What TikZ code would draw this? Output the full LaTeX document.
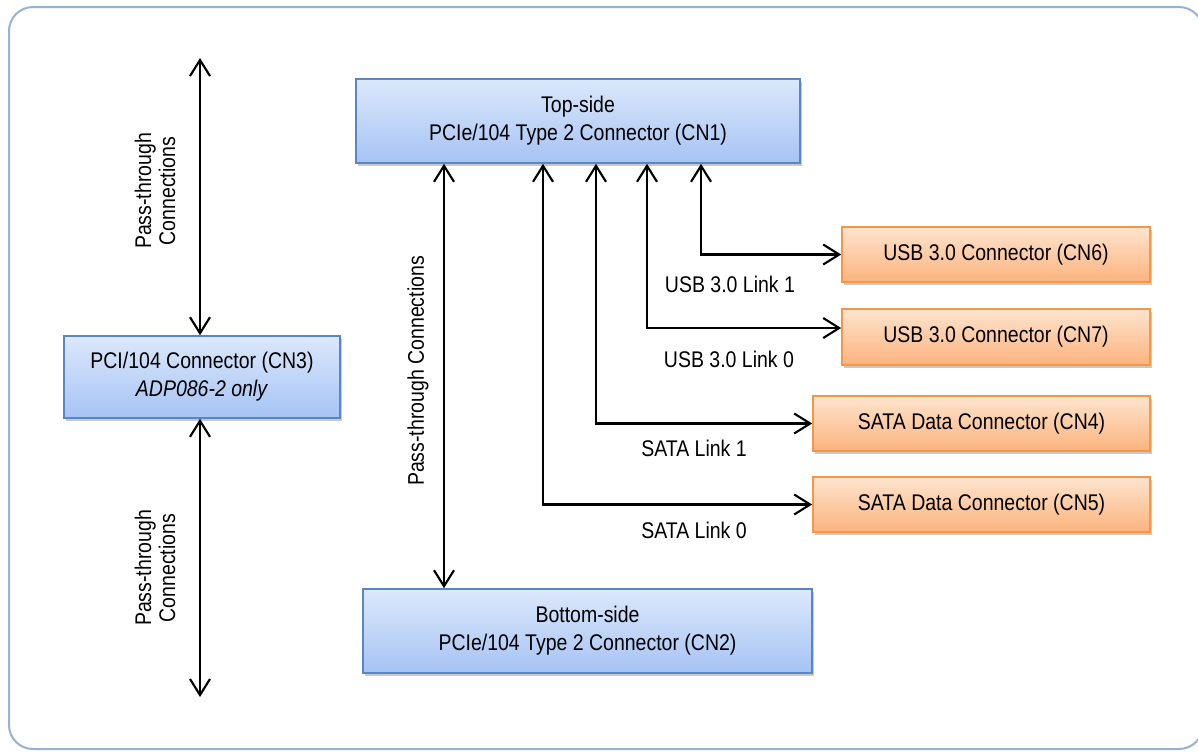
\documentclass[tikz,border=0pt]{standalone}
\usepackage{fontspec}
\setmainfont{Liberation Sans}[FakeStretch=0.86]
\usetikzlibrary{arrows.meta,shadows,calc}
\definecolor{frameblue}{HTML}{95B3D7}
\definecolor{bluetop}{HTML}{DCE8FC}
\definecolor{bluebot}{HTML}{A6C3F4}
\definecolor{blueedge}{HTML}{5B86C5}
\definecolor{orangetop}{HTML}{FEE4CE}
\definecolor{orangebot}{HTML}{FBB37D}
\definecolor{orangeedge}{HTML}{F79646}
\tikzset{
  boxbase/.style={draw, line width=1.2pt, inner sep=0pt, align=center,
    font=\fontsize{17}{21}\selectfont,
    drop shadow={shadow xshift=1.5pt, shadow yshift=-2.5pt, opacity=0.35, fill=black!60}},
  bluebox/.style={boxbase, draw=blueedge, top color=bluetop, bottom color=bluebot},
  orangebox/.style={boxbase, draw=orangeedge, top color=orangetop, bottom color=orangebot},
  conn/.style={line width=1.6pt, {Straight Barb[length=12pt,width=15pt]}-{Straight Barb[length=12pt,width=15pt]}},
  lbl/.style={font=\fontsize{17}{18}\selectfont, inner sep=0pt, align=center},
}
\begin{document}
\begin{tikzpicture}[x=0.75pt,y=-0.75pt]
\useasboundingbox (0,0) rectangle (1198,754);
\clip (0,0) rectangle (1198,754);
\fill[white] (0,0) rectangle (1198,754);
\draw[frameblue, line width=1.5pt, rounded corners=18pt] (9,7) rectangle (1203,749);

\node[bluebox, minimum width=333pt, minimum height=63pt] (cn1) at (578,121)
  {Top-side\\PCIe/104 Type 2 Connector (CN1)};
\node[bluebox, minimum width=207pt, minimum height=61.5pt] (cn3) at (202,377)
  {PCI/104 Connector (CN3)\\\textit{ADP086-2 only}};
\node[bluebox, minimum width=336.75pt, minimum height=63pt] (cn2) at (587.5,631)
  {Bottom-side\\PCIe/104 Type 2 Connector (CN2)};
\node[orangebox, minimum width=231pt, minimum height=41.25pt] (cn6) at (996,254.5)
  {USB 3.0 Connector (CN6)};
\node[orangebox, minimum width=231pt, minimum height=42pt] (cn7) at (996,337)
  {USB 3.0 Connector (CN7)};
\node[orangebox, minimum width=252.75pt, minimum height=41.25pt] (cn4) at (981.5,423.5)
  {SATA Data Connector (CN4)};
\node[orangebox, minimum width=252.75pt, minimum height=41.25pt] (cn5) at (981.5,504.5)
  {SATA Data Connector (CN5)};

\coordinate (lt) at (200,58);
\coordinate (lb) at (200,697);
\draw[conn] (lt) -- (lt |- cn3.north);
\draw[conn] (lb |- cn3.south) -- (lb);
\coordinate (mx) at (444,0);
\draw[conn] (mx |- cn1.south) -- (mx |- cn2.north);

\coordinate (u1) at (701,0);
\coordinate (u0) at (647,0);
\coordinate (s1) at (596,0);
\coordinate (s0) at (543,0);
\draw[conn] (u1 |- cn1.south) |- (cn6.west);
\draw[conn] (u0 |- cn1.south) |- ($(cn7.west)+(0,-9)$);
\draw[conn] (s1 |- cn1.south) |- (cn4.west);
\draw[conn] (s0 |- cn1.south) |- (cn5.west);

\node[lbl] (l1) at (730,284) {USB 3.0 Link 1};
\node[lbl] (l0) at (729,359) {USB 3.0 Link 0};
\node[lbl] (l2) at (694,448) {SATA Link 1};
\node[lbl] (l3) at (694,530) {SATA Link 0};

\node[lbl, rotate=90] (pt1) at (155,191) {Pass-through\\Connections};
\node[lbl, rotate=90] (pt2) at (155,568) {Pass-through\\Connections};
\node[lbl, rotate=90] (pt3) at (418,371) {Pass-through Connections};
\end{tikzpicture}
\end{document}
